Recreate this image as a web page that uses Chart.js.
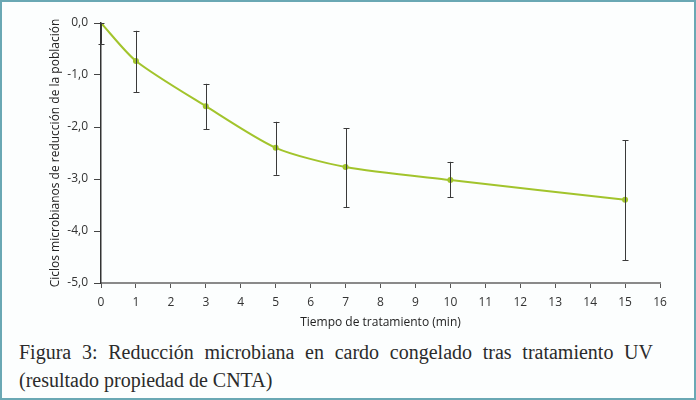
<!DOCTYPE html>
<html>
<head>
<meta charset="utf-8">
<script src="https://cdn.jsdelivr.net/npm/chart.js@4.4.1/dist/chart.umd.min.js"></script>
<style>
  html, body { margin: 0; padding: 0; background: #fff; }
  #frame {
    position: relative; width: 696px; height: 400px;
    box-sizing: border-box; border: 2px solid #6aa8b4; background: #fcfefe;
    overflow: hidden;
  }
  #chartBox { position: absolute; left: -2px; top: -2px; width: 696px; height: 334px; }
  #caption {
    position: absolute; left: 17px; top: 336px; width: 634px;
    font-family: "Liberation Serif", "DejaVu Serif", serif;
    font-size: 20px; line-height: 28px; color: #2b2b2b;
  }
  #caption .l1 { text-align: justify; text-align-last: justify; white-space: normal; }
</style>
</head>
<body>
<div id="frame">
  <div id="chartBox"><canvas id="lineChart"></canvas></div>
  <div id="caption">
    <div class="l1">Figura 3: Reducción microbiana en cardo congelado tras tratamiento UV</div>
    <div>(resultado propiedad de CNTA)</div>
  </div>
</div>
<script>
// ============================================
// DATA
// ============================================
const timeMin = [0, 1, 3, 5, 7, 10, 15];
const reduction = [0.0, -0.73, -1.6, -2.4, -2.77, -3.02, -3.4];
const errUpper = [0.0, -0.15, -1.17, -1.9, -2.02, -2.67, -2.25];
const errLower = [-0.4, -1.33, -2.04, -2.92, -3.54, -3.35, -4.56];
const yTicks = [0, -1, -2, -3, -4, -5];

const tickFont = { family: "'Open Sans', 'Noto Sans', sans-serif", size: 12 };

// ============================================
// ERROR BARS (drawn through the chart scales)
// ============================================
const errorBarPlugin = {
    id: 'errorBars',
    afterDatasetsDraw(chart) {
        const { ctx, scales: { x, y }, chartArea } = chart;
        ctx.save();
        ctx.beginPath();
        ctx.rect(chartArea.left - 10, chartArea.top, chartArea.right - chartArea.left + 20, chartArea.bottom - chartArea.top);
        ctx.clip();
        ctx.strokeStyle = '#3a3a3a';
        ctx.lineWidth = 1;
        timeMin.forEach((t, i) => {
            const px = Math.round(x.getPixelForValue(t)) + 0.5;
            const top = y.getPixelForValue(errUpper[i]);
            const bot = y.getPixelForValue(errLower[i]);
            ctx.beginPath();
            ctx.moveTo(px, top);
            ctx.lineTo(px, bot);
            ctx.moveTo(px - 3, Math.round(top) + 0.5);
            ctx.lineTo(px + 3, Math.round(top) + 0.5);
            ctx.moveTo(px - 3, Math.round(bot) + 0.5);
            ctx.lineTo(px + 3, Math.round(bot) + 0.5);
            ctx.stroke();
        });
        ctx.restore();
    }
};

// ============================================
// LINE CHART
// ============================================
const ctx = document.getElementById('lineChart');

new Chart(ctx, {
    type: 'line',
    data: {
        datasets: [{
            label: 'Reducción',
            data: timeMin.map((t, i) => ({ x: t, y: reduction[i] })),
            borderColor: '#a2c42c',
            backgroundColor: '#a2c42c',
            borderWidth: 2,
            tension: 0.25,
            pointRadius: 3,
            pointBorderWidth: 0,
            fill: false
        }]
    },
    options: {
        responsive: true,
        maintainAspectRatio: false,
        animation: false,
        layout: { padding: { top: 23, right: 36, left: 44, bottom: 0 }, autoPadding: false },
        plugins: { legend: { display: false }, tooltip: { enabled: false } },
        scales: {
            x: {
                type: 'linear',
                min: 0,
                max: 16,
                afterFit: (scale) => { scale.height = 334 - 283; },
                ticks: { stepSize: 1, color: '#333', font: tickFont, padding: 7, maxRotation: 0 },
                grid: { drawOnChartArea: false, drawTicks: true, tickLength: 5, color: '#555' },
                border: { color: '#8a8a8a', width: 2 },
                title: {
                    display: true,
                    text: 'Tiempo de tratamiento (min)',
                    color: '#222',
                    font: { family: "'Open Sans', 'Noto Sans', sans-serif", size: 12 },
                    padding: { top: 3 }
                }
            },
            y: {
                min: -5,
                max: 0,
                afterFit: (scale) => { scale.width = 101 - 44; },
                afterBuildTicks: (scale) => { scale.ticks = yTicks.map(v => ({ value: v })); },
                ticks: {
                    color: '#333',
                    font: tickFont,
                    padding: 6,
                    callback: (v) => v.toFixed(1).replace('.', ',')
                },
                grid: { drawOnChartArea: false, drawTicks: true, tickLength: 7, color: '#444' },
                border: { color: '#333', width: 1.5 },
                title: {
                    display: true,
                    text: 'Ciclos microbianos de reducción de la población',
                    color: '#222',
                    font: { family: "'Open Sans', 'Noto Sans', sans-serif", size: 12 },
                    padding: { bottom: 2 }
                }
            }
        }
    },
    plugins: [errorBarPlugin]
});
</script>
</body>
</html>
